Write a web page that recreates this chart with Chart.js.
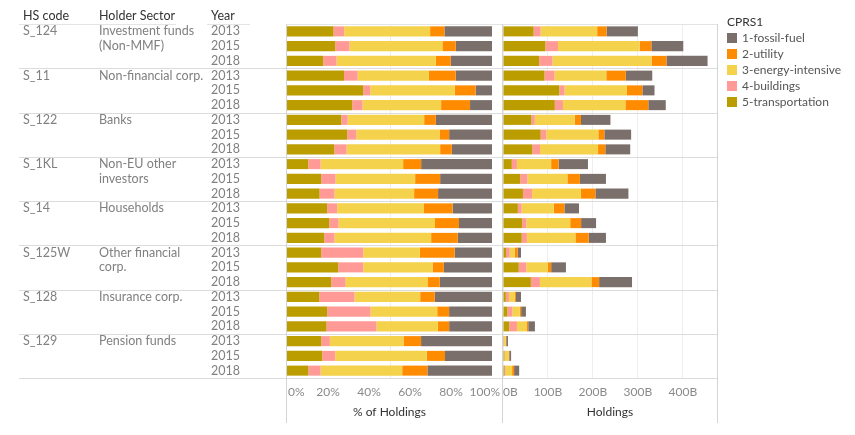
<!DOCTYPE html>
<html>
<head>
<meta charset="utf-8">
<script src="https://cdn.jsdelivr.net/npm/chart.js@4.4.0/dist/chart.umd.min.js"></script>
<style>
  body { margin: 0; background: #fff; }
  #wrap { position: relative; width: 855px; height: 435px; font-family: Lato, sans-serif; }
  #pct { position: absolute; left: 0; top: 0; }
  #hold { position: absolute; left: 490px; top: 0; }
  #legend { position: absolute; left: 727px; top: 14px; font-size: 12px; color: #555; }
  #legend .ttl { color: #333; height: 16px; line-height: 16px; }
  #legend .item { height: 16px; line-height: 16px; white-space: nowrap; }
  #legend .sw { display: inline-block; width: 10px; height: 10px; margin-right: 5px; vertical-align: -1px; }
</style>
</head>
<body>
<div id="wrap">
  <canvas id="pct" width="500" height="435"></canvas>
  <canvas id="hold" width="365" height="435"></canvas>
  <div id="legend"></div>
</div>
<script>
const hsCodes = ['S_124', 'S_11', 'S_122', 'S_1KL', 'S_14', 'S_125W', 'S_128', 'S_129'];
const sectorNames = [['Investment funds', '(Non-MMF)'], ['Non-financial corp.'], ['Banks'], ['Non-EU other', 'investors'],
                     ['Households'], ['Other financial', 'corp.'], ['Insurance corp.'], ['Pension funds']];
const years = ['2013', '2015', '2018'];

// share of holdings in % (rows: sector x year)
const transportation = [22.7, 23.5, 17.7, 27.8, 37.2, 31.8, 26.5, 29.4, 23.1, 10.4, 16.7, 15.9,
                        19.6, 20.6, 18.2, 16.7, 25.0, 21.6, 15.7, 19.6, 19.3, 16.7, 17.2, 10.4];
const buildings = [5.2, 7.0, 6.5, 6.7, 3.4, 5.0, 3.1, 4.4, 6.0, 6.0, 7.0, 7.3,
                   4.9, 4.5, 5.0, 20.5, 12.2, 7.0, 17.2, 21.1, 24.4, 4.2, 6.3, 6.0];
const energyIntensive = [41.9, 45.3, 48.4, 34.7, 41.2, 38.3, 37.3, 40.6, 45.6, 40.3, 38.8, 38.8,
                         42.4, 47.1, 47.1, 27.6, 33.8, 39.9, 32.0, 32.5, 29.9, 35.9, 44.6, 39.8];
const utility = [7.0, 6.5, 7.3, 13.1, 10.2, 14.1, 5.7, 4.7, 5.7, 8.8, 12.2, 11.7,
                 14.0, 11.7, 13.0, 17.0, 5.5, 6.0, 7.1, 5.8, 5.5, 8.6, 8.9, 12.3];
const fossilFuel = [23.2, 17.7, 20.1, 17.7, 8.0, 10.7, 27.4, 20.9, 19.6, 34.6, 25.3, 26.3,
                    19.2, 16.1, 16.7, 18.2, 23.5, 25.5, 27.9, 20.9, 20.9, 34.6, 22.9, 31.5];
// total holdings, billions
const totalHoldings = [300, 401, 455, 332, 337, 362, 239, 285, 283, 189, 229, 279,
                       169, 207, 229, 40, 140, 287, 40, 51, 71, 11, 18, 36];

const pctTicks = [0, 20, 40, 60, 80, 100];

const seriesNames = ['5-transportation', '4-buildings', '3-energy-intensive', '2-utility', '1-fossil-fuel'];
const seriesColors = ['#bb9d00', '#ff9a97', '#f5d24b', '#ff8c00', '#7b6f6b'];
const seriesShares = [transportation, buildings, energyIntensive, utility, fossilFuel];

const rowLabels = hsCodes.flatMap(c => years.map(y => c + ' ' + y));
const rowSums = rowLabels.map((_, i) => seriesShares.reduce((a, s) => a + s[i], 0));

const FONT = 'Lato, sans-serif';
const lineCol = '#dcdcdc';

function hline(ctx, x1, x2, y, col) {
    ctx.strokeStyle = col; ctx.lineWidth = 1;
    ctx.beginPath(); ctx.moveTo(x1, Math.round(y) + 0.5); ctx.lineTo(x2, Math.round(y) + 0.5); ctx.stroke();
}
function vline(ctx, x, y1, y2, col) {
    ctx.strokeStyle = col; ctx.lineWidth = 1;
    ctx.beginPath(); ctx.moveTo(Math.round(x) + 0.5, y1); ctx.lineTo(Math.round(x) + 0.5, y2); ctx.stroke();
}
function blockEdges(chart) {
    const y = chart.scales.y, a = chart.chartArea;
    let edges = [];
    for (let s = 1; s < hsCodes.length; s++) {
        edges.push((y.getPixelForValue(s * 3 - 1) + y.getPixelForValue(s * 3)) / 2);
    }
    edges.push(a.bottom);
    return edges;
}

const tablePlugin = {
    id: 'table',
    beforeDatasetsDraw(chart) {
        const ctx = chart.ctx, a = chart.chartArea;
        ctx.save();
        vline(ctx, chart.scales.x.getPixelForValue(50), a.top, a.bottom, '#ececec');
        hline(ctx, a.left - 1, 500, a.top, '#e4e4e4');
        hline(ctx, 19, 176, a.top - 0.5, '#e4e4e4');
        hline(ctx, 207, 250, a.top - 0.5, '#e4e4e4');
        blockEdges(chart).forEach(e => hline(ctx, 19, 500, e, lineCol));
        vline(ctx, a.left - 1, a.top, 423, '#d4d4d4');
        ctx.restore();
    },
    afterDraw(chart) {
        const ctx = chart.ctx, y = chart.scales.y, x = chart.scales.x, a = chart.chartArea;
        ctx.save();
        ctx.textBaseline = 'middle';
        ctx.font = '12.5px ' + FONT;
        ctx.fillStyle = '#333';
        ctx.fillText('HS code', 23, 16);
        ctx.fillText('Holder Sector', 99, 16);
        ctx.fillText('Year', 211, 16);
        ctx.fillStyle = '#808080';
        hsCodes.forEach((code, s) => {
            ctx.fillText(code, 23, y.getPixelForValue(s * 3));
            sectorNames[s].forEach((ln, k) => ctx.fillText(ln, 99, y.getPixelForValue(s * 3 + k)));
            years.forEach((yr, j) => ctx.fillText(yr, 211, y.getPixelForValue(s * 3 + j)));
        });
        // % axis labels: centred on the tick, kept inside the panel
        ctx.font = '12px ' + FONT;
        ctx.fillStyle = '#8a8a8a';
        pctTicks.forEach(v => {
            const lbl = v + '%';
            const w = ctx.measureText(lbl).width;
            let x0 = x.getPixelForValue(v) - w / 2;
            x0 = Math.min(Math.max(x0, a.left + 1), 500 - w);
            ctx.fillText(lbl, x0, a.bottom + 14);
        });
        ctx.restore();
    }
};

const holdFrame = {
    id: 'holdFrame',
    beforeDatasetsDraw(chart) {
        const ctx = chart.ctx, a = chart.chartArea;
        ctx.save();
        hline(ctx, 0, a.right, a.top, '#e4e4e4');
        blockEdges(chart).forEach(e => hline(ctx, 0, a.right, e, lineCol));
        vline(ctx, a.left - 1, a.top, 423, '#d4d4d4');
        vline(ctx, a.right, a.top, 423, '#d4d4d4');
        ctx.restore();
    }
};

function xAxis(extra) {
    return Object.assign({
        stacked: true,
        min: 0,
        border: { display: false },
        ticks: { align: 'inner', color: '#8a8a8a', font: { size: 12, family: FONT }, padding: 7, maxRotation: 0 },
        title: { display: true, color: '#333', font: { size: 12, family: FONT }, padding: { top: 0, bottom: 16 } },
        afterFit: s => { s.height = 57; }
    }, extra);
}

const pctAxis = xAxis({ max: 100, grid: { display: false, drawTicks: false } });
pctAxis.ticks.display = false;
pctAxis.title.text = '% of Holdings';

const holdAxis = xAxis({ max: 476, grid: { color: '#eeeeee', drawTicks: false } });
holdAxis.ticks.stepSize = 100;
holdAxis.ticks.callback = v => (v % 100 === 0 ? v + 'B' : '');
holdAxis.title.text = 'Holdings';

function makeChart(id, datasets, xOpts, padding, plugin) {
    return new Chart(document.getElementById(id), {
        type: 'bar',
        data: { labels: rowLabels, datasets: datasets },
        options: {
            responsive: false,
            animation: false,
            indexAxis: 'y',
            layout: { padding: padding },
            datasets: { bar: { barPercentage: 0.68, categoryPercentage: 1 } },
            plugins: { legend: { display: false }, tooltip: { enabled: false } },
            scales: { x: xOpts, y: { stacked: true, display: false } }
        },
        plugins: [plugin]
    });
}

const pctSets = seriesShares.map((s, k) => ({
    label: seriesNames[k], backgroundColor: seriesColors[k],
    data: s.map((v, i) => v / rowSums[i] * 100)
}));
const holdSets = seriesShares.map((s, k) => ({
    label: seriesNames[k], backgroundColor: seriesColors[k],
    data: s.map((v, i) => v / rowSums[i] * totalHoldings[i])
}));

makeChart('pct', pctSets, pctAxis, { left: 287, right: 8, top: 24, bottom: 0 }, tablePlugin);
makeChart('hold', holdSets, holdAxis, { left: 13, right: 365 - 227, top: 24, bottom: 0 }, holdFrame);

// legend
let html = '<div class="ttl">CPRS1</div>';
for (let k = seriesNames.length - 1; k >= 0; k--) {
    html += '<div class="item"><span class="sw" style="background:' + seriesColors[k] + '"></span>' + seriesNames[k] + '</div>';
}
document.getElementById('legend').innerHTML = html;
</script>
</body>
</html>
